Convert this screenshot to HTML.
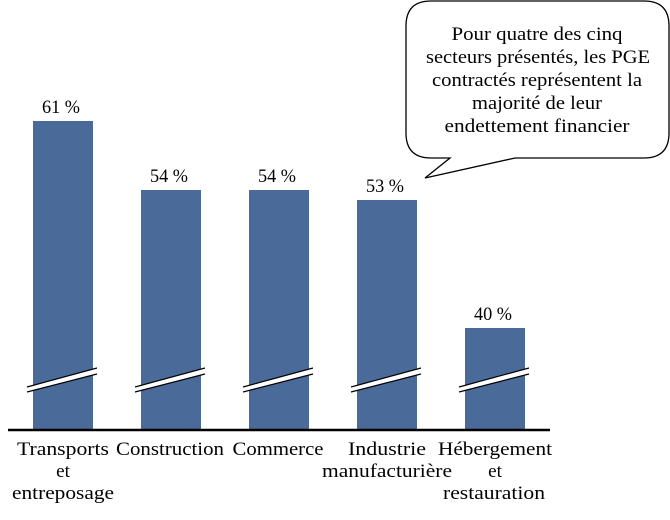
<!DOCTYPE html>
<html><head><style>body{margin:0;background:#fff}</style></head><body>
<svg width="670" height="515" xmlns="http://www.w3.org/2000/svg" font-family="Liberation Serif, serif" font-size="19">
<g fill="#4a6a9a">
<rect x="33" y="121" width="60" height="309"/>
<rect x="141" y="190" width="60" height="240"/>
<rect x="249" y="190" width="60" height="240"/>
<rect x="357" y="200" width="60" height="230"/>
<rect x="465" y="328" width="60" height="102"/>
</g>
<g stroke="#000" stroke-width="1.2">
<g id="b"><polygon points="27,387 97,368 97,374 27,392" fill="#fff" stroke="none"/><line x1="27" y1="387" x2="97" y2="368"/><line x1="27" y1="392" x2="97" y2="374"/></g>
<use href="#b" x="108"/><use href="#b" x="216"/><use href="#b" x="324"/><use href="#b" x="432"/>
</g>
<line x1="8" y1="430" x2="550" y2="430" stroke="#000" stroke-width="2.5"/>
<g text-anchor="middle">
<text x="61" y="113" textLength="38" lengthAdjust="spacingAndGlyphs">61 %</text><text x="169" y="182" textLength="38" lengthAdjust="spacingAndGlyphs">54 %</text><text x="277" y="182" textLength="38" lengthAdjust="spacingAndGlyphs">54 %</text><text x="385" y="192" textLength="38" lengthAdjust="spacingAndGlyphs">53 %</text><text x="493" y="320" textLength="38" lengthAdjust="spacingAndGlyphs">40 %</text>
<text x="63" y="455" textLength="92" lengthAdjust="spacingAndGlyphs">Transports</text><text x="63" y="477">et</text><text x="63" y="499" textLength="102" lengthAdjust="spacingAndGlyphs">entreposage</text>
<text x="170" y="455" textLength="108" lengthAdjust="spacingAndGlyphs">Construction</text>
<text x="278" y="455" textLength="91" lengthAdjust="spacingAndGlyphs">Commerce</text>
<text x="387" y="455" textLength="78" lengthAdjust="spacingAndGlyphs">Industrie</text><text x="387" y="477" textLength="130" lengthAdjust="spacingAndGlyphs">manufacturière</text>
<text x="495" y="455" textLength="114" lengthAdjust="spacingAndGlyphs">Hébergement</text><text x="495" y="477">et</text><text x="494" y="499" textLength="102" lengthAdjust="spacingAndGlyphs">restauration</text>
</g>
<path d="M431,1 H644 Q669,1 669,26 V133 Q669,158 644,158 H515 L425,178 L450,158 H431 Q406,158 406,133 V26 Q406,1 431,1 Z" fill="#fff" stroke="#000" stroke-width="1.3"/>
<g text-anchor="middle">
<text x="537" y="40" textLength="171" lengthAdjust="spacingAndGlyphs">Pour quatre des cinq</text>
<text x="538" y="63" textLength="224" lengthAdjust="spacingAndGlyphs">secteurs présentés, les PGE</text>
<text x="537" y="86" textLength="210" lengthAdjust="spacingAndGlyphs">contractés représentent la</text>
<text x="537" y="109" textLength="130" lengthAdjust="spacingAndGlyphs">majorité de leur</text>
<text x="537" y="132" textLength="185" lengthAdjust="spacingAndGlyphs">endettement financier</text>
</g>
</svg>
</body></html>
